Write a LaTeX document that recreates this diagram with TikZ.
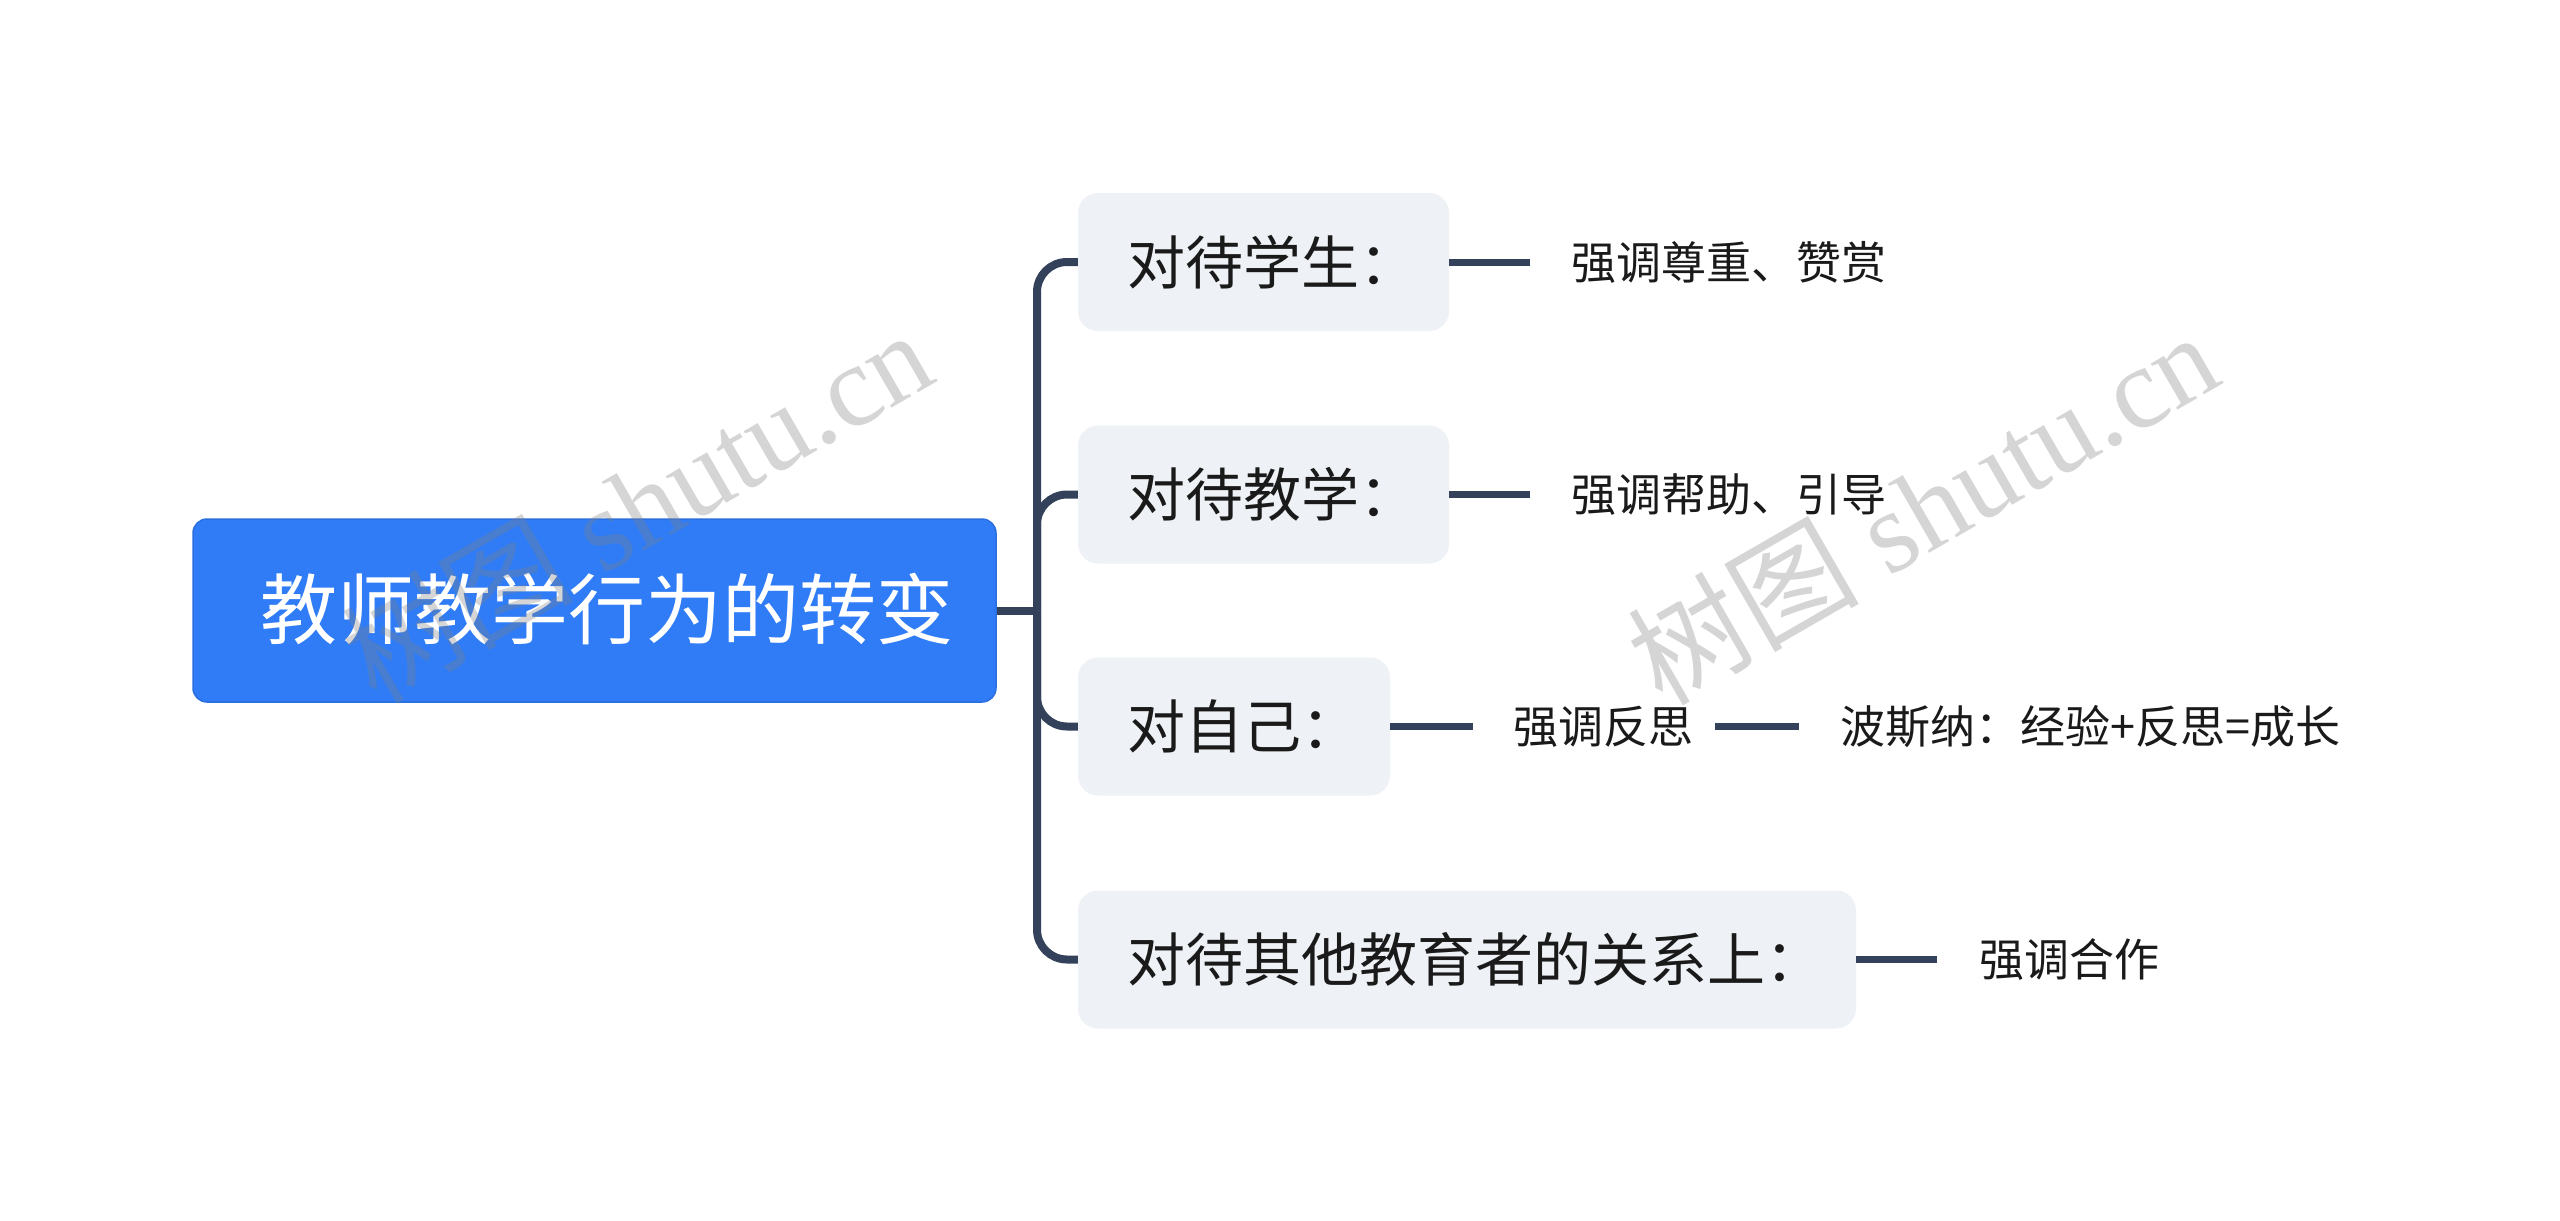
\documentclass[tikz,border=0pt]{standalone}
\usepackage{fontspec}
\newfontfamily\cjk{Noto Sans CJK SC}
\newfontfamily\wmserif{Liberation Serif}
\definecolor{rootblue}{HTML}{2F7CF6}
\definecolor{rootedge}{HTML}{2A6FE0}
\definecolor{subfill}{HTML}{EEF1F5}
\definecolor{linec}{HTML}{33425A}
\definecolor{txt}{HTML}{1A1A1A}
\definecolor{wm}{HTML}{808080}
\begin{document}
\begin{tikzpicture}[x=1pt,y=-1pt,
 rootbox/.style={rectangle, rounded corners=14pt, fill=rootblue, draw=rootedge, line width=1.5pt, minimum width=803pt, minimum height=183pt, inner sep=0pt},
 subbox/.style={rectangle, rounded corners=20pt, fill=subfill, minimum height=138pt, inner sep=0pt},
 roottext/.style={inner sep=0pt, font=\cjk\fontsize{77}{92}\selectfont, text=white},
 subtext/.style={anchor=west, inner sep=0pt, font=\cjk\fontsize{58}{70}\selectfont, text=txt},
 leaftext/.style={anchor=west, inner sep=0pt, font=\cjk\fontsize{45}{54}\selectfont, text=txt},
 conn/.style={draw=linec, line width=8pt},
 leafconn/.style={draw=linec, line width=7pt},
 wmark/.style={text=wm, opacity=0.33, rotate=30, font=\wmserif\fontsize{116}{136}\selectfont, inner sep=0pt}]
\fill[white] (0,0) rectangle (2560,1221);
\useasboundingbox (0,0) rectangle (2560,1221);

% root
\node[rootbox] (root) at (594.5,610.5) {};
\node[roottext] (roott) at (607,609) {教师教学行为的转变};

% level 1 boxes
\node[subbox, minimum width=371pt] (b1) at (1263.5,262) {};
\node[subbox, minimum width=371pt] (b2) at (1263.5,494.5) {};
\node[subbox, minimum width=312pt] (b3) at (1234,726.5) {};
\node[subbox, minimum width=778pt] (b4) at (1467,959.5) {};
\node[subtext] (t1) at (1127,262) {对待学生：};
\node[subtext] (t2) at (1127,494.5) {对待教学：};
\node[subtext] (t3) at (1127,726.5) {对自己：};
\node[subtext] (t4) at (1127,959.5) {对待其他教育者的关系上：};

% leaves
\node[leaftext] (l1) at (1571,262) {强调尊重、赞赏};
\node[leaftext] (l2) at (1571,494.5) {强调帮助、引导};
\node[leaftext] (l3) at (1513,726.5) {强调反思};
\node[leaftext] (l4) at (1840,726.5) {波斯纳：经验+反思=成长};
\node[leaftext] (l5) at (1979,959.5) {强调合作};

% trunk
\coordinate (j) at (1037,610.5);
\draw[conn] (root.east) -- (j);
\draw[conn, rounded corners=30pt] (j) -- (j |- b1.west) -- (b1.west);
\draw[conn, rounded corners=30pt] (j) -- (j |- b2.west) -- (b2.west);
\draw[conn, rounded corners=30pt] (j) -- (j |- b3.west) -- (b3.west);
\draw[conn, rounded corners=30pt] (j) -- (j |- b4.west) -- (b4.west);

% leaf connectors
\draw[leafconn] (b1.east) -- ([xshift=-41pt]l1.west);
\draw[leafconn] (b2.east) -- ([xshift=-41pt]l2.west);
\draw[leafconn] (b3.east) -- ([xshift=-40pt]l3.west);
\draw[leafconn] ([xshift=22pt]l3.east) -- ([xshift=-41pt]l4.west);
\draw[leafconn] (b4.east) -- ([xshift=-42pt]l5.west);

% watermarks
\node[wmark] (wm1) at (636,505) {{\cjk 树图} shutu.cn};
\node[wmark] (wm2) at (1922,507) {{\cjk 树图} shutu.cn};
\end{tikzpicture}
\end{document}
